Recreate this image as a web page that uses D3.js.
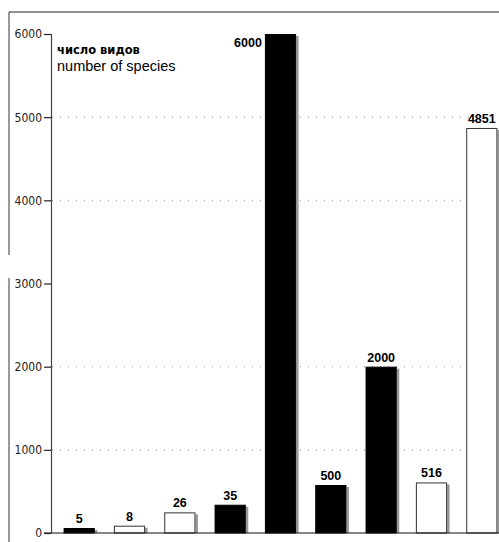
<!DOCTYPE html>
<html>
<head>
<meta charset="utf-8">
<script src="https://cdn.jsdelivr.net/npm/d3@7"></script>
<style>
  body { margin: 0; background: #fff; }
  .tick-label { font-family: "Liberation Sans Narrow", "DejaVu Sans Condensed", sans-serif; font-size: 12px; fill: #222; }
  .value-label { font-family: "Liberation Sans", Arial, sans-serif; font-weight: bold; font-size: 12.5px; fill: #000; }
</style>
</head>
<body>
<div id="chart"></div>
<script>
const width = 499, height = 542;

// printed labels and the bar heights as drawn (small bars are drawn larger than scale)
const labels = ["5", "8", "26", "35", "6000", "500", "2000", "516", "4851"];
const heights = [60, 88, 248, 340, 6000, 577, 2000, 608, 4870];
const filled = [true, false, false, true, true, true, true, false, false];
const yTicks = [0, 1000, 2000, 3000, 4000, 5000, 6000];
const gridValues = [1000, 2000, 4000, 5000];

const data = labels.map((l, i) => ({ i, label: l, h: heights[i], filled: filled[i] }));

const svg = d3.select("#chart")
    .append("svg")
    .attr("width", width)
    .attr("height", height);

const xScale = d3.scaleBand()
    .domain(data.map(d => d.i))
    .range([51, 510])
    .paddingInner(0.38)
    .paddingOuter(0.25);

const yScale = d3.scaleLinear()
    .domain([0, 6000])
    .range([533, 34]);

// frame (top and left)
svg.append("line")
    .attr("x1", 9).attr("x2", width).attr("y1", 12).attr("y2", 12)
    .attr("stroke", "#222").attr("stroke-width", 1.2);
svg.append("line")
    .attr("x1", 9).attr("x2", 9).attr("y1", 12).attr("y2", 255)
    .attr("stroke", "#555").attr("stroke-width", 1.2);
svg.append("line")
    .attr("x1", 9).attr("x2", 9).attr("y1", 278).attr("y2", height)
    .attr("stroke", "#555").attr("stroke-width", 1.2);

// dotted gridlines
svg.append("g")
    .selectAll("line")
    .data(gridValues)
    .join("line")
    .attr("x1", 52).attr("x2", width)
    .attr("y1", d => yScale(d)).attr("y2", d => yScale(d))
    .attr("stroke", "#888")
    .attr("stroke-width", 1)
    .attr("stroke-dasharray", "1,7");

// bar shadows (gray strip at right edge)
svg.append("g")
    .selectAll("rect")
    .data(data)
    .join("rect")
    .attr("x", d => xScale(d.i) + xScale.bandwidth())
    .attr("y", d => yScale(d.h) + 2)
    .attr("width", 2.5)
    .attr("height", d => yScale(0) - yScale(d.h) - 2)
    .attr("fill", "#999");

// bars
svg.append("g")
    .selectAll("rect")
    .data(data)
    .join("rect")
    .attr("x", d => xScale(d.i) + 0.5)
    .attr("y", d => yScale(d.h) + 0.5)
    .attr("width", xScale.bandwidth() - 1)
    .attr("height", d => yScale(0) - yScale(d.h) - 0.5)
    .attr("fill", d => d.filled ? "#000" : "#fff")
    .attr("stroke", d => d.filled ? "#000" : "#333")
    .attr("stroke-width", 1);

// value labels
svg.append("g")
    .selectAll("text")
    .data(data)
    .join("text")
    .attr("class", "value-label")
    .attr("x", d => d.h >= 6000 ? xScale(d.i) - 3 : xScale(d.i) + xScale.bandwidth() / 2)
    .attr("y", d => d.h >= 6000 ? yScale(d.h) + 13 : yScale(d.h) - 5)
    .attr("text-anchor", d => d.h >= 6000 ? "end" : "middle")
    .text(d => d.label);

// baseline
svg.append("line")
    .attr("x1", 44).attr("x2", width)
    .attr("y1", yScale(0)).attr("y2", yScale(0))
    .attr("stroke", "#111").attr("stroke-width", 1.2);

// y axis
const leftAxis = d3.axisLeft(yScale)
    .tickValues(yTicks)
    .tickSize(7)
    .tickPadding(2)
    .tickFormat(d3.format("d"));

const yAxis = svg.append("g")
    .attr("transform", "translate(51, 0)")
    .call(leftAxis);
yAxis.select(".domain").attr("stroke", "#444").attr("stroke-width", 1.2);
yAxis.selectAll(".tick line").attr("stroke", "#222").attr("stroke-width", 1.2);
yAxis.selectAll(".tick text").attr("class", "tick-label").attr("font-family", null).attr("font-size", null);

// axis title
svg.append("text")
    .attr("x", 57).attr("y", 54)
    .attr("font-family", "'DejaVu Sans', sans-serif")
    .attr("font-weight", "bold")
    .attr("font-size", 11.5)
    .text("число видов");
svg.append("text")
    .attr("x", 57).attr("y", 71)
    .attr("font-family", "'Liberation Sans', Arial, sans-serif")
    .attr("font-size", 14.5)
    .text("number of species");
</script>
</body>
</html>
